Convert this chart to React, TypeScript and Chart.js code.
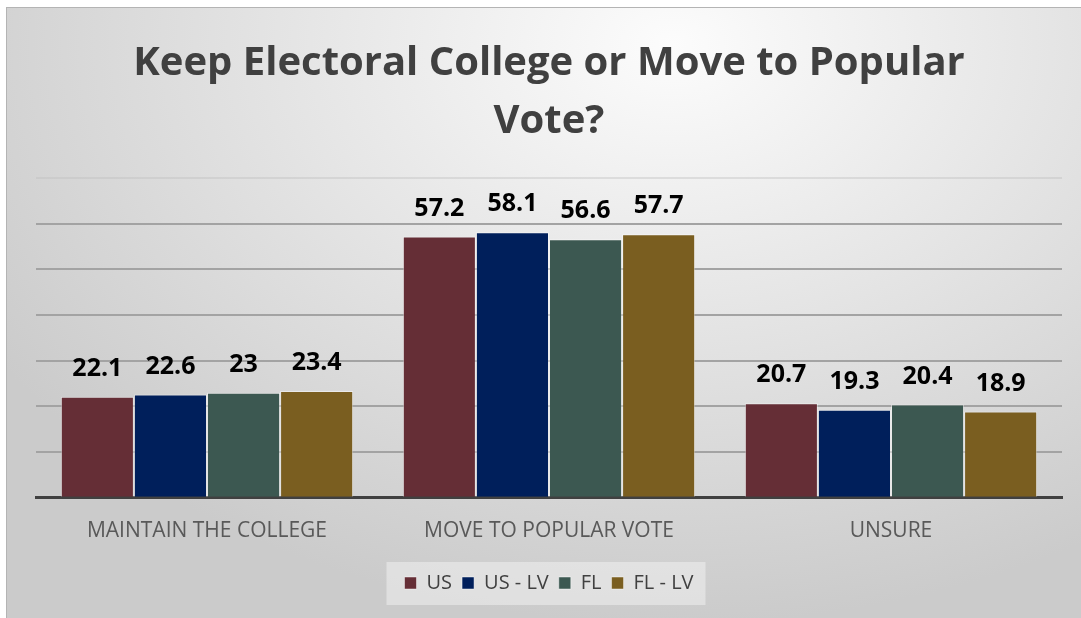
import React, { useEffect, useRef } from "react";
import { Chart, registerables } from "chart.js";

Chart.register(...registerables);

const categories = ["MAINTAIN THE COLLEGE", "MOVE TO POPULAR VOTE", "UNSURE"];
const seriesNames = ["US", "US - LV", "FL", "FL - LV"];
const usValues = [22.1, 57.2, 20.7];
const usLvValues = [22.6, 58.1, 19.3];
const flValues = [23, 56.6, 20.4];
const flLvValues = [23.4, 57.7, 18.9];
const seriesColors = ["#652E36", "#001F5B", "#3C5851", "#7A5E20"];
const titleLines = ["Keep Electoral College or Move to Popular", "Vote?"];
const yMax = 70;
const yStep = 10;

const FONT = "'Open Sans', 'DejaVu Sans', sans-serif";

const valueLabels = {
  id: "valueLabels",
  afterDatasetsDraw(chart: any) {
    const ctx = chart.ctx;
    ctx.save();
    ctx.font = `bold 25px ${FONT}`;
    ctx.fillStyle = "#000000";
    ctx.textAlign = "center";
    ctx.textBaseline = "middle";
    chart.data.datasets.forEach((ds: any, i: number) => {
      const meta = chart.getDatasetMeta(i);
      meta.data.forEach((bar: any, j: number) => {
        ctx.fillText(String(ds.data[j]), bar.x, bar.y - 28);
      });
    });
    ctx.restore();
  },
};

const legendBg = {
  id: "legendBg",
  beforeDraw(chart: any) {
    const lg = chart.legend;
    if (!lg || !lg.legendHitBoxes || !lg.legendHitBoxes.length) return;
    const boxes = lg.legendHitBoxes;
    let minX = Infinity;
    let maxX = -Infinity;
    boxes.forEach((b: any) => {
      minX = Math.min(minX, b.left);
      maxX = Math.max(maxX, b.left + b.width);
    });
    const ctx = chart.ctx;
    ctx.save();
    ctx.fillStyle = "rgba(240,240,240,0.55)";
    ctx.fillRect(minX - 18, lg.top - 1, maxX - minX + 30, 43);
    ctx.restore();
  },
};

export default function App() {
  const ref = useRef<HTMLCanvasElement>(null);
  useEffect(() => {
    if (!ref.current) return;
    const dataSets = [usValues, usLvValues, flValues, flLvValues];
    const chart = new Chart(ref.current, {
      type: "bar",
      data: {
        labels: categories,
        datasets: dataSets.map((d, i) => ({
          label: seriesNames[i],
          data: d,
          backgroundColor: seriesColors[i],
          borderColor: "rgba(255,255,255,0.45)",
          borderWidth: 1,
          categoryPercentage: 0.855,
          barPercentage: 1,
        })),
      },
      options: {
        animation: false,
        responsive: false,
        maintainAspectRatio: false,
        layout: { padding: { left: 36, right: 19, top: 0, bottom: 15 } },
        plugins: {
          title: {
            display: true,
            text: titleLines,
            color: "#404040",
            font: { family: FONT, size: 40, weight: "bold", lineHeight: 1.45 },
            padding: { top: 35, bottom: 27 },
          },
          legend: {
            position: "bottom",
            labels: {
              color: "#404040",
              font: { family: FONT, size: 20 },
              boxWidth: 12,
              boxHeight: 12,
              padding: 10,
            },
          },
          tooltip: { enabled: false },
        },
        scales: {
          x: {
            grid: { display: false, drawTicks: false },
            border: { display: true, color: "#404040", width: 3 },
            ticks: {
              color: "#595959",
              font: { family: FONT, size: 21 },
              padding: 21,
            },
            afterFit: (scale: any) => {
              scale.height -= 2;
            },
          },
          y: {
            min: 0,
            max: yMax,
            ticks: { display: false, stepSize: yStep },
            grid: {
              drawTicks: false,
              lineWidth: 2,
              color: (c: any) =>
                c.tick && c.tick.value === yMax ? "rgba(190,190,190,0.4)" : "#a3a3a3",
            },
            border: { display: false },
          },
        },
      },
      plugins: [valueLabels, legendBg],
    } as any);
    return () => chart.destroy();
  }, []);

  return (
    <div style={{ position: "fixed", left: 0, top: 0, width: 1081, height: 618, background: "#ffffff" }}>
      <div
        style={{
          position: "absolute",
          left: 6,
          top: 7,
          width: 1075,
          height: 611,
          borderTop: "1px solid #b4b4b4",
          borderLeft: "1px solid #b4b4b4",
          boxSizing: "border-box",
          background:
            "radial-gradient(ellipse 75% 95% at 62% 6%, #fcfcfc 0%, #e6e6e6 45%, #cbcbcb 100%)",
        }}
      />
      <canvas ref={ref} width={1081} height={618} style={{ position: "absolute", left: 0, top: 0 }} />
    </div>
  );
}
